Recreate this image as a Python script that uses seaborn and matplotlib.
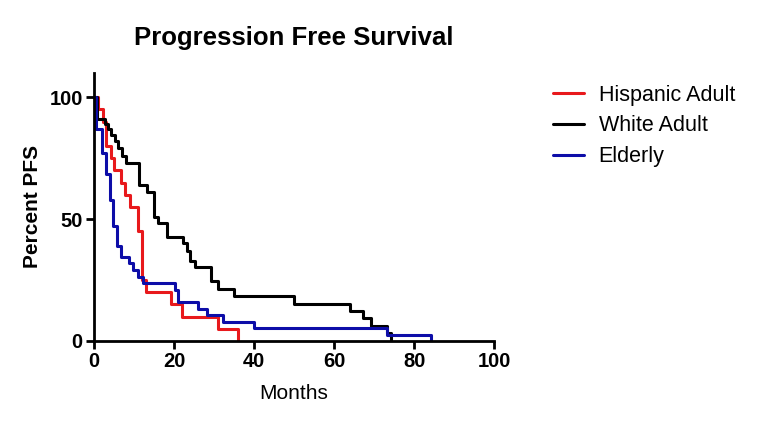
import matplotlib
matplotlib.use("Agg")
import matplotlib.pyplot as plt
import seaborn as sns
import pandas as pd

# step curves (months, percent PFS)
hisp_months = [0, 1.1, 2.2, 3, 4.2, 5, 6.9, 7.75, 9, 11, 12, 13, 19.2, 22, 31, 36]
hisp_pfs = [100, 95, 90, 80, 75, 70, 65, 60, 55, 45, 25, 20, 15, 10, 5, 0]

white_months = [0, 0.8, 2.75, 3.6, 4.2, 5.25, 6.1, 7.1, 7.9, 11.25, 13.2, 15, 16, 18.3,
                22.2, 23.2, 24, 25.25, 29.2, 31, 35, 50, 64, 67.3, 69.2, 73.2, 74.2]
white_pfs = [100, 91, 89, 87, 84.5, 82, 79, 76, 73, 64, 61, 51, 48.5, 42.5,
             40, 37, 33, 30.5, 24.5, 21.5, 18.3, 15.3, 12.2, 9.2, 6.1, 3.1, 0]

eld_months = [0, 0.5, 2, 3, 4, 4.7, 5.7, 6.9, 8.8, 9.8, 11, 12.3, 20.25, 21,
              26, 28.2, 32.2, 40, 73.2, 84.2]
eld_pfs = [100, 87, 77, 68.5, 58, 47, 39, 34.5, 32, 29, 26.3, 23.7, 21, 15.8,
           13.2, 10.5, 7.9, 5.3, 2.6, 0]

groups = ["Hispanic Adult", "White Adult", "Elderly"]
colors = ["#e8191c", "#000000", "#0d0da8"]

df = pd.concat([
    pd.DataFrame({"Months": hisp_months, "pfs": hisp_pfs, "group": groups[0]}),
    pd.DataFrame({"Months": white_months, "pfs": white_pfs, "group": groups[1]}),
    pd.DataFrame({"Months": eld_months, "pfs": eld_pfs, "group": groups[2]}),
])

sns.set_style("ticks")
plt.rcParams["font.family"] = ["Liberation Sans", "DejaVu Sans"]
plt.rcParams["text.color"] = "black"
plt.rcParams["axes.labelcolor"] = "black"
plt.rcParams["xtick.color"] = "black"
plt.rcParams["ytick.color"] = "black"
plt.rcParams["axes.edgecolor"] = "black"

fig = plt.figure(figsize=(7.57, 4.24), dpi=100)
ax = fig.add_axes([0.124, 0.196, 0.529, 0.632])

sns.lineplot(data=df, x="Months", y="pfs", hue="group", hue_order=groups,
             palette=colors, drawstyle="steps-post", estimator=None, sort=False,
             linewidth=2.2, ax=ax, legend=False)

ax.set_xlim(0, 100)
ax.set_ylim(0, 110)
ax.set_xticks([0, 20, 40, 60, 80, 100])
ax.set_yticks([0, 50, 100])
sns.despine(ax=ax)
for s in ["left", "bottom"]:
    ax.spines[s].set_linewidth(2)
ax.tick_params(width=2, length=6, labelsize=14.5, pad=2)
for lab in ax.get_xticklabels() + ax.get_yticklabels():
    lab.set_fontweight("bold")

ax.set_xlabel("Months", fontsize=15, labelpad=9)
ax.set_ylabel("Percent PFS", fontsize=15, fontweight="bold", labelpad=5)
ax.set_title("Progression Free Survival", fontsize=18.5, fontweight="bold", pad=20)

handles = [plt.Line2D([], [], color=c, linewidth=2.2) for c in colors]
fig.legend(handles, groups, loc="upper left", bbox_to_anchor=(0.731, 0.80),
           frameon=False, fontsize=15.5, handlelength=1.4, handletextpad=0.7,
           labelspacing=0.45, borderaxespad=0, borderpad=0)

fig.savefig("out.png", dpi=100)
